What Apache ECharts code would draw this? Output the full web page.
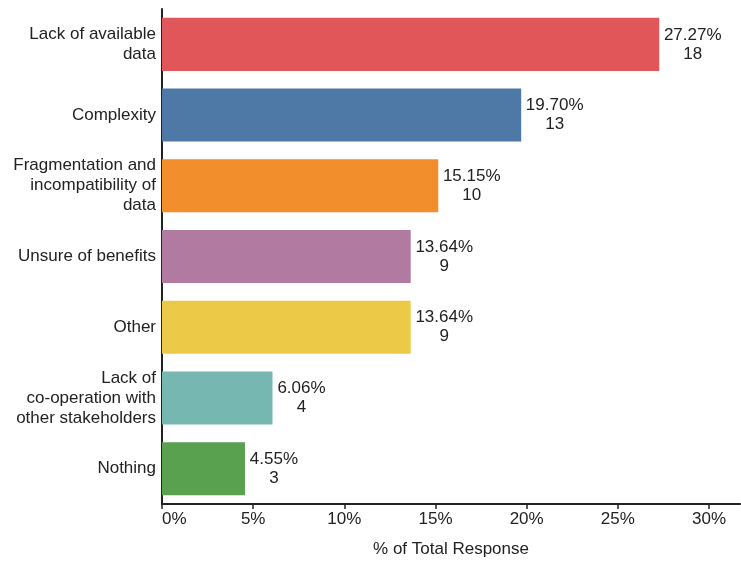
<!DOCTYPE html>
<html><head><meta charset="utf-8">
<script src="https://cdn.jsdelivr.net/npm/echarts@6/dist/echarts.min.js"></script>
<style>html,body{margin:0;padding:0;background:#fff}#c{width:741px;height:561px}</style>
</head><body><div id="c"></div>
<script>
const categories = ["Lack of available\ndata", "Complexity", "Fragmentation and\nincompatibility of\ndata", "Unsure of benefits", "Other", "Lack of\nco-operation with\nother stakeholders", "Nothing"];
const percents = [27.27, 19.70, 15.15, 13.64, 13.64, 6.06, 4.55];
const counts = [18, 13, 10, 9, 9, 4, 3];
const colors = ["#E15759", "#4E79A7", "#F28E2B", "#B07AA1", "#EDC948", "#76B7B2", "#59A14F"];
const xTicks = [0, 5, 10, 15, 20, 25, 30];

const FONT = '"Liberation Sans", Arial, sans-serif';
const TXT = '#222';
const ctx = document.createElement('canvas').getContext('2d');
ctx.font = '17px ' + FONT;

const chart = echarts.init(document.getElementById('c'), null, {renderer: 'canvas'});
chart.setOption({
  animation: false,
  grid: {left: 162, right: 1, top: 9, bottom: 57, containLabel: false, outerBoundsMode: 'none'},
  xAxis: {
    type: 'value', min: 0, max: 31.7, interval: 5,
    name: '% of Total Response', nameLocation: 'middle', nameGap: 37,
    nameTextStyle: {fontSize: 17, color: TXT, fontFamily: FONT},
    axisLine: {show: true, lineStyle: {color: '#222', width: 2}},
    axisTick: {show: true, length: 5, lineStyle: {color: '#222', width: 1.5}, customValues: xTicks},
    axisLabel: {fontSize: 17, color: TXT, fontFamily: FONT, margin: 7, customValues: xTicks, alignMinLabel: 'left', formatter: v => v + '%'},
    splitLine: {show: false}
  },
  yAxis: {
    type: 'category', data: categories, inverse: true,
    axisLine: {show: true, lineStyle: {color: '#222', width: 2}},
    axisTick: {show: false},
    axisLabel: {fontSize: 17, color: TXT, fontFamily: FONT, margin: 6, lineHeight: 20, align: 'right'}
  },
  series: [{
    type: 'bar', barWidth: '75%',
    data: percents.map((v, i) => {
      const p = v.toFixed(2) + '%';
      const w = Math.ceil(ctx.measureText(p).width) + 1;
      return {
        value: v,
        itemStyle: {color: colors[i]},
        label: {
          show: true, position: 'right', distance: 4,
          formatter: '{a|' + p + '}\n{a|' + counts[i] + '}',
          rich: {a: {width: w, align: 'center', fontSize: 17, lineHeight: 19, color: TXT, fontFamily: FONT}}
        }
      };
    })
  }]
});
</script></body></html>
